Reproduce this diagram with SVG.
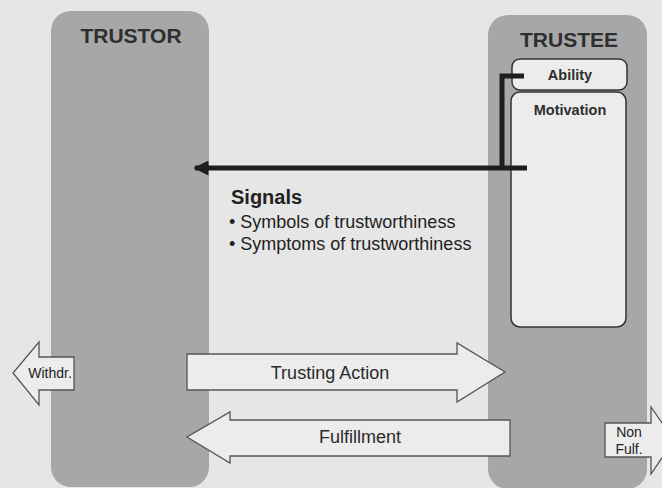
<svg xmlns="http://www.w3.org/2000/svg" width="662" height="488" viewBox="0 0 662 488">
<defs>
<marker id="ah" viewBox="0 0 10 10" refX="9" refY="5" markerWidth="3.4" markerHeight="3" orient="auto" markerUnits="strokeWidth">
<path d="M0,0 L10,5 L0,10 Z" fill="#1e1e1e"/>
</marker>
<style>
.col{fill:#a7a7a7;}
.hd{font-family:"Liberation Sans",Arial,sans-serif;font-weight:bold;font-size:21px;fill:#2e2e2e;text-anchor:middle;}
.box{fill:#ececec;stroke:#333;stroke-width:1.5;}
.bl{font-family:"Liberation Sans",Arial,sans-serif;font-weight:bold;font-size:14.5px;fill:#2e2e2e;text-anchor:middle;}
.arr{fill:#ececec;stroke:#555;stroke-width:1.3;}
.at{font-family:"Liberation Sans",Arial,sans-serif;font-size:18px;fill:#2a2a2a;text-anchor:middle;}
.st{font-family:"Liberation Sans",Arial,sans-serif;font-size:14px;fill:#222;text-anchor:middle;}
.sig{font-family:"Liberation Sans",Arial,sans-serif;fill:#222;}
.ln{fill:none;stroke:#1e1e1e;stroke-width:5;}
</style>
</defs>
<rect width="662" height="488" fill="#e6e6e6"/>
<g id="trustor">
<rect class="col" x="51" y="11" width="158" height="476" rx="20"/>
<text class="hd" x="131" y="43">TRUSTOR</text>
</g>
<g id="trustee">
<rect class="col" x="488" y="15" width="159" height="474" rx="20"/>
<text class="hd" x="569" y="47">TRUSTEE</text>
</g>
<g id="ability">
<rect class="box" x="512" y="59" width="115" height="31" rx="8"/>
<text class="bl" x="570" y="80">Ability</text>
</g>
<g id="motivation">
<rect class="box" x="511" y="92" width="115" height="235" rx="9"/>
<text class="bl" x="570" y="115">Motivation</text>
</g>
<g id="connectors">
<path class="ln" d="M524,76 L502,76 L502,169"/>
<path class="ln" d="M527,168 L195,168" marker-end="url(#ah)"/>
</g>
<g id="signals">
<text class="sig" x="231" y="204" font-size="20" font-weight="bold">Signals</text>
<text class="sig" x="229" y="228" font-size="18">• Symbols of trustworthiness</text>
<text class="sig" x="229" y="250" font-size="18">• Symptoms of trustworthiness</text>
</g>
<g id="trusting-action">
<polygon class="arr" points="187,354 457,354 457,343 505,372 457,402 457,390 187,390"/>
<text class="at" x="330" y="379">Trusting Action</text>
</g>
<g id="fulfillment">
<polygon class="arr" points="510,420 230,420 230,412 187,437 230,463 230,456 510,456"/>
<text class="at" x="360" y="443">Fulfillment</text>
</g>
<g id="withdrawal">
<polygon class="arr" points="74,357 39,357 39,342 13,373 39,405 39,390 74,390"/>
<text class="st" x="50" y="378">Withdr.</text>
</g>
<g id="non-fulfillment">
<polygon class="arr" points="605,423 651,423 651,407 674,440 651,474 651,457 605,457"/>
<text class="st" x="629" y="437">Non</text>
<text class="st" x="629" y="454">Fulf.</text>
</g>
</svg>
